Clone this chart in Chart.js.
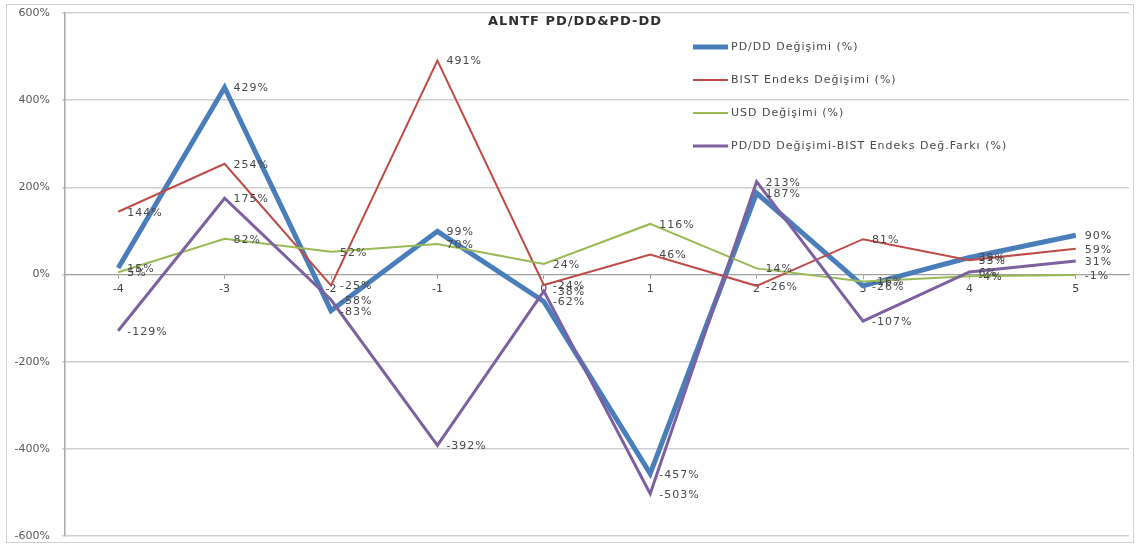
<!DOCTYPE html>
<html>
<head>
<meta charset="utf-8">
<script src="https://cdn.jsdelivr.net/npm/chart.js@4"></script>
<style>
    html, body { margin: 0; padding: 0; background: #fff; }
    #wrap { width: 1139px; height: 546px; }
</style>
</head>
<body>
<div id="wrap"><canvas id="chart" width="1139" height="546"></canvas></div>
<script>
// x categories (periods)
const periods = ['-4', '-3', '-2', '-1', '0', '1', '2', '3', '4', '5'];

// series values, in %
const pdddChange = [15, 429, -83, 99, -62, -457, 187, -26, 39, 90];
const bistChange = [144, 254, -25, 491, -24, 46, -26, 81, 33, 59];
const usdChange = [5, 82, 52, 70, 24, 116, 14, -16, -4, -1];
const pdddMinusBist = [-129, 175, -58, -392, -38, -503, 213, -107, 6, 31];

const seriesNames = [
    'PD/DD Değişimi (%)',
    'BIST Endeks Değişimi (%)',
    'USD Değişimi (%)',
    'PD/DD Değişimi-BIST Endeks Değ.Farkı (%)'
];

const yTicks = [600, 400, 200, 0, -200, -400, -600];

const FONT = '"DejaVu Sans", Verdana, sans-serif';

// frame around the whole picture
const framePlugin = {
    id: 'frame',
    beforeDraw(chart) {
        const ctx = chart.ctx;
        ctx.save();
        ctx.fillStyle = '#fff';
        ctx.fillRect(0, 0, chart.width, chart.height);
        ctx.strokeStyle = '#d0d0d0';
        ctx.lineWidth = 1;
        ctx.strokeRect(6.5, 4.5, chart.width - 12, chart.height - 8);
        ctx.restore();
    }
};

// value labels to the right of every point
const valueLabels = {
    id: 'valueLabels',
    afterDatasetsDraw(chart) {
        const ctx = chart.ctx;
        ctx.save();
        ctx.font = '11px ' + FONT;
        ctx.letterSpacing = '1px';
        ctx.fillStyle = '#484848';
        ctx.textBaseline = 'middle';
        ctx.textAlign = 'left';
        chart.data.datasets.forEach((ds, i) => {
            const meta = chart.getDatasetMeta(i);
            meta.data.forEach((pt, j) => {
                ctx.fillText(ds.data[j] + '%', pt.x + 9, pt.y + 1);
            });
        });
        ctx.restore();
    }
};

// title and legend sit inside the plot area, like the Excel original
const insideLegend = {
    id: 'insideLegend',
    afterDraw(chart) {
        const ctx = chart.ctx;
        const area = chart.chartArea;
        ctx.save();

        ctx.font = 'bold 13px ' + FONT;
        ctx.letterSpacing = '1px';
        ctx.fillStyle = '#303030';
        ctx.textAlign = 'center';
        ctx.textBaseline = 'middle';
        ctx.fillText('ALNTF PD/DD&PD-DD', (area.left + area.right) / 2 - 22, area.top + 9);

        const x0 = area.left + 628;
        let y = area.top + 34;
        ctx.font = '11px ' + FONT;
        ctx.letterSpacing = '1px';
        ctx.textAlign = 'left';
        chart.data.datasets.forEach(ds => {
            ctx.strokeStyle = ds.borderColor;
            ctx.lineWidth = ds.borderWidth;
            ctx.beginPath();
            ctx.moveTo(x0, y);
            ctx.lineTo(x0 + 35, y);
            ctx.stroke();
            ctx.fillStyle = '#484848';
            ctx.fillText(ds.label, x0 + 38, y);
            y += 33;
        });
        ctx.restore();
    }
};

new Chart(document.getElementById('chart'), {
    type: 'line',
    data: {
        labels: periods,
        datasets: [
            { label: seriesNames[0], data: pdddChange, borderColor: '#4a7ebb', borderWidth: 5, order: 4 },
            { label: seriesNames[1], data: bistChange, borderColor: '#be4b48', borderWidth: 2, order: 3 },
            { label: seriesNames[2], data: usdChange, borderColor: '#98b954', borderWidth: 2, order: 2 },
            { label: seriesNames[3], data: pdddMinusBist, borderColor: '#7d60a0', borderWidth: 3, order: 1 }
        ].map(ds => Object.assign(ds, { pointRadius: 0, tension: 0, fill: false }))
    },
    options: {
        responsive: false,
        animation: false,
        layout: { padding: { left: 4, top: 13, right: 10, bottom: 10 } },
        plugins: {
            legend: { display: false },
            title: { display: false },
            tooltip: { enabled: false }
        },
        scales: {
            x: {
                type: 'category',
                position: { y: 0 },
                offset: true,
                afterFit(axis) {
                    // axis sits on the zero line, it should not take room in the layout
                    axis.height = 0;
                },
                grid: { display: true, drawOnChartArea: false, drawTicks: true, tickLength: 4, color: '#a0a0a0' },
                border: { display: true, color: '#a0a0a0' },
                ticks: {
                    font: { size: 11, family: FONT },
                    color: '#404040',
                    padding: 4,
                    maxRotation: 0,
                    autoSkip: false
                }
            },
            y: {
                min: -600,
                max: 600,
                afterBuildTicks(axis) {
                    axis.ticks = yTicks.map(v => ({ value: v }));
                },
                afterFit(axis) {
                    axis.width = 61;
                    axis.paddingTop = 0;
                    axis.paddingBottom = 0;
                },
                grid: { color: '#cfcfcf', lineWidth: 1.5, tickLength: 3 },
                border: { display: true, color: '#a8a8a8', width: 1.5 },
                ticks: {
                    font: { size: 11, family: FONT },
                    color: '#595959',
                    padding: 12,
                    callback: v => v + '%'
                }
            }
        }
    },
    plugins: [framePlugin, valueLabels, insideLegend]
});
</script>
</body>
</html>
